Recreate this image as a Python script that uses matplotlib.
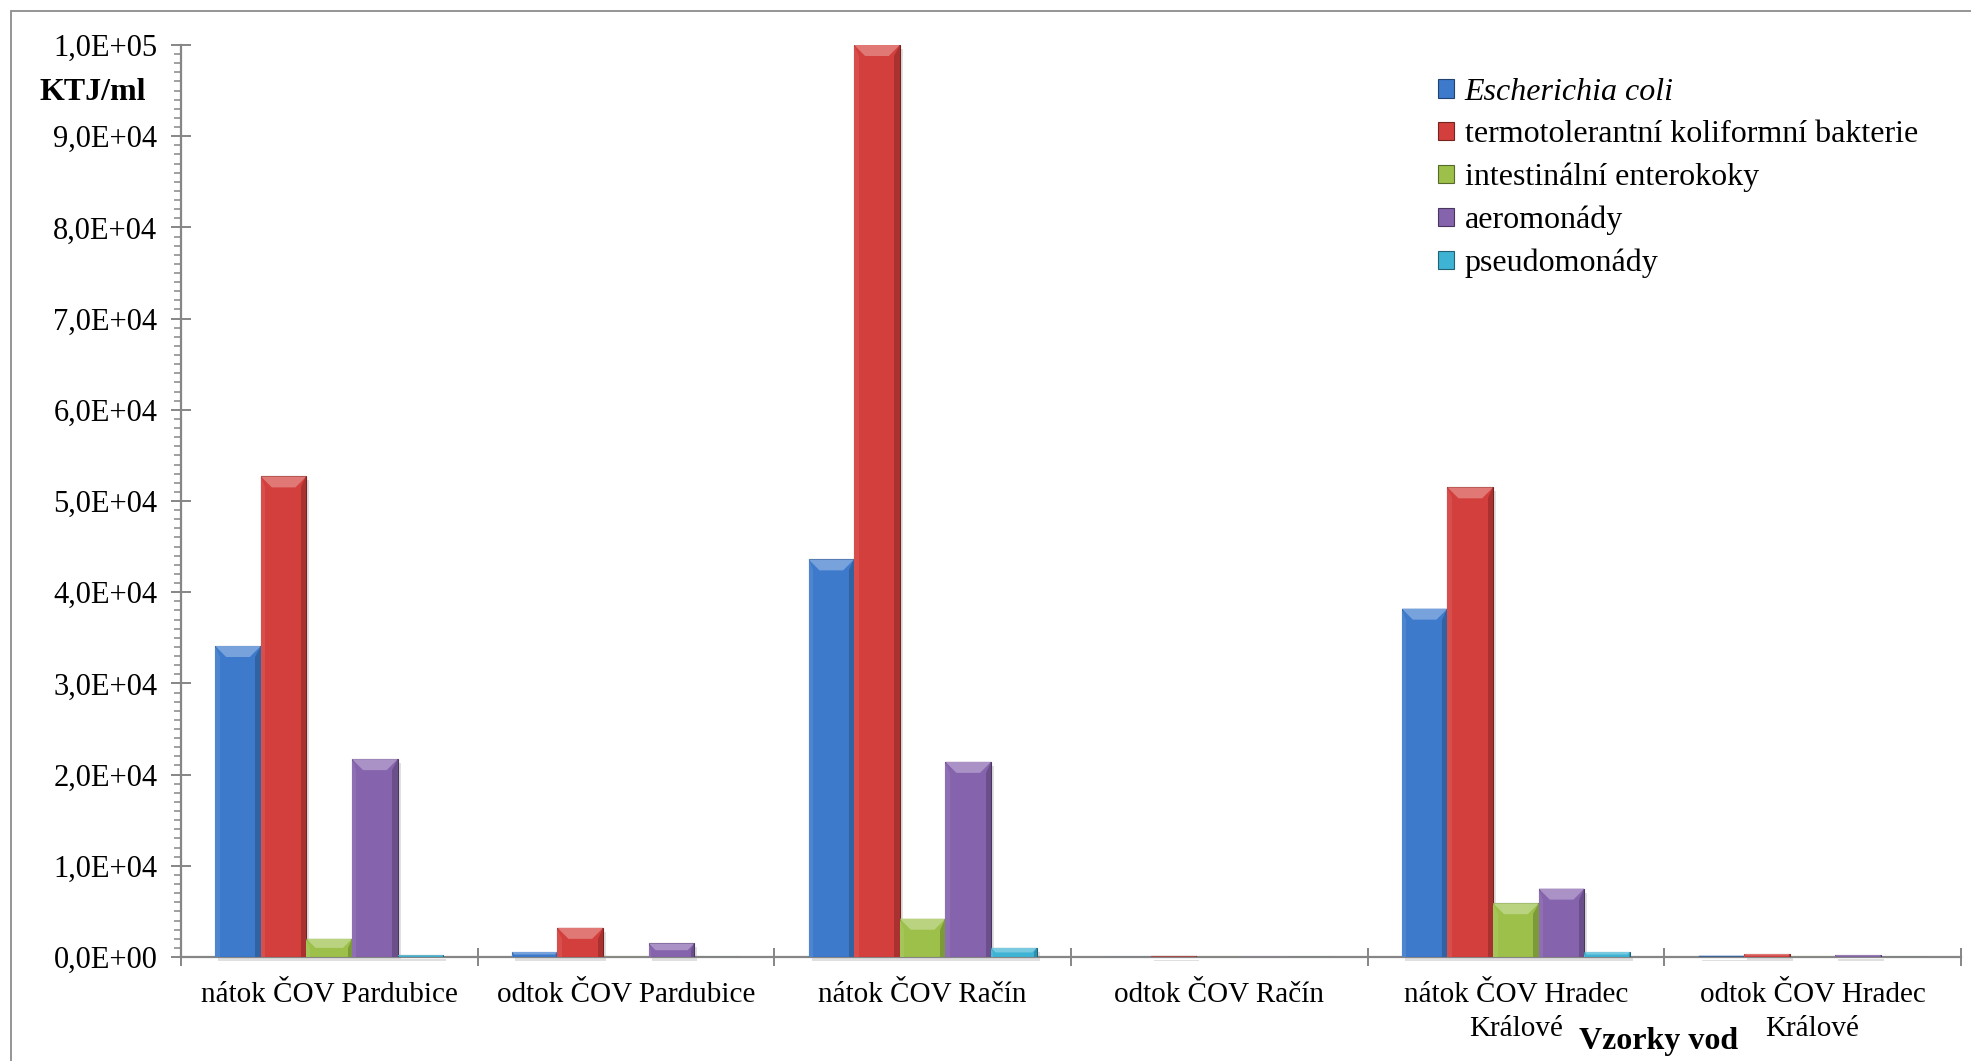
import numpy as np
import matplotlib
matplotlib.use("Agg")
import matplotlib.pyplot as plt
from matplotlib.patches import Polygon, Rectangle
from matplotlib.ticker import FuncFormatter, MultipleLocator, FixedLocator

plt.rcParams['font.family'] = ['Liberation Serif', 'DejaVu Serif']

# počty bakterií (KTJ/ml) ve vzorcích
vzorky = ["nátok ČOV Pardubice", "odtok ČOV Pardubice", "nátok ČOV Račín",
          "odtok ČOV Račín", "nátok ČOV Hradec\nKrálové", "odtok ČOV Hradec\nKrálové"]
e_coli = [34100, 550, 43600, 20, 38200, 150]
termotol = [52700, 3200, 100000, 100, 51500, 330]
enterokoky = [2000, 30, 4200, 10, 5900, 20]
aeromonady = [21700, 1500, 21400, 40, 7500, 200]
pseudomonady = [200, 0, 1000, 0, 550, 0]

serie = [e_coli, termotol, enterokoky, aeromonady, pseudomonady]
nazvy = ["Escherichia coli", "termotolerantní koliformní bakterie",
         "intestinální enterokoky", "aeromonády", "pseudomonády"]
barvy = ["#3d7acb", "#d33f3c", "#9cc04a", "#8563ad", "#3fb3d3"]


def odstin(c, f):
    rgb = np.array(matplotlib.colors.to_rgb(c))
    if f > 0:
        return tuple(rgb + (1 - rgb) * f)
    return tuple(rgb * (1 + f))


def sci_fmt(v, pos):
    if v == 0:
        return "0,0E+00"
    e = int(np.floor(np.log10(abs(v))))
    return f"{v / 10**e:.1f}".replace(".", ",") + f"E+{e:02d}"


fig = plt.figure(figsize=(19.71, 10.61), dpi=100)
ax = fig.add_axes([0.0918, 0.098, 0.9031, 0.8596])

# rámeček grafu
fig.patches.append(Rectangle((11 / 1971, -0.5), 3, 1.5 - 11 / 1061, transform=fig.transFigure,
                             fill=False, edgecolor="#8c8c8c", linewidth=1.3))

n = len(serie)
sirka = 1 / (n + 1.5)
x = np.arange(len(vzorky))
ax.set_xlim(-0.5, len(vzorky) - 0.5)
ax.set_ylim(0, 100000)

# převod pixelů na datové jednotky kvůli zkosení hran sloupců
ax_w_px = 0.9031 * 1971
ax_h_px = 0.8596 * 1061
px_x = (len(vzorky)) / ax_w_px
px_y = 100000 / ax_h_px

for i, (hodnoty, nazev, barva) in enumerate(zip(serie, nazvy, barvy)):
    poz = x + (i - (n - 1) / 2) * sirka
    ax.bar(poz, hodnoty, sirka, color=barva, edgecolor=odstin(barva, -0.45),
           linewidth=0.8, label=nazev, zorder=3)
    for xc, h in zip(poz, hodnoty):
        if h <= 0:
            continue
        l, r = xc - sirka / 2, xc + sirka / 2
        # stín
        ax.add_patch(Rectangle((l + 3 * px_x, -4 * px_y), sirka, h, color="black",
                               alpha=0.12, linewidth=0, zorder=2, clip_on=False))
        b_px = min(11, h / px_y / 2)
        bx, by = b_px * px_x, b_px * px_y
        horni = Polygon([(l, h), (r, h), (r - bx, h - by), (l + bx, h - by)],
                        closed=True, color=odstin(barva, 0.3), linewidth=0, zorder=4)
        prava = Polygon([(r, h), (r, 0), (r - bx * 0.5, 0), (r - bx * 0.5, h - by)],
                        closed=True, color=odstin(barva, -0.2), linewidth=0, zorder=4)
        leva = Polygon([(l, h), (l, 0), (l + bx * 0.4, 0), (l + bx * 0.4, h - by)],
                       closed=True, color=odstin(barva, 0.08), linewidth=0, zorder=4)
        for p in (horni, prava, leva):
            ax.add_patch(p)

for s in ("top", "right"):
    ax.spines[s].set_visible(False)
for s in ("left", "bottom"):
    ax.spines[s].set_color("#868686")
    ax.spines[s].set_linewidth(1.6)

ax.yaxis.set_major_locator(MultipleLocator(10000))
ax.yaxis.set_minor_locator(MultipleLocator(1000))
ax.yaxis.set_major_formatter(FuncFormatter(sci_fmt))
ax.tick_params(axis="y", which="major", direction="inout", length=14, width=1.4,
               color="#868686", labelsize=22, pad=10)
ax.tick_params(axis="y", which="minor", direction="out", length=5, width=1.1,
               color="#868686")

ax.xaxis.set_major_locator(FixedLocator(np.arange(len(vzorky) + 1) - 0.5))
ax.xaxis.set_minor_locator(FixedLocator(x))
ax.xaxis.set_major_formatter(plt.NullFormatter())
ax.set_xticks(x, vzorky, minor=True)
ax.tick_params(axis="x", which="major", direction="inout", length=13, width=1.4,
               color="#868686")
ax.tick_params(axis="x", which="minor", length=0, labelsize=21, pad=18)
for t in ax.get_xticklabels(minor=True):
    t.set_multialignment("center")
    t.set_linespacing(1.38)

leg = ax.legend(loc="upper left", bbox_to_anchor=(0.706, 0.964), frameon=False,
                fontsize=23, handlelength=0.5, handleheight=0.5, handletextpad=0.35,
                labelspacing=0.42, borderaxespad=0, borderpad=0)
leg.get_texts()[0].set_fontstyle("italic")

fig.text(40 / 1971, 1 - 92 / 1061, "KTJ/ml", fontsize=23, fontweight="bold",
         ha="left", va="center")
fig.text(1659 / 1971, 1 - 1042 / 1061, "Vzorky vod", fontsize=23, fontweight="bold",
         ha="center", va="center")

fig.savefig("out.png", dpi=100)
